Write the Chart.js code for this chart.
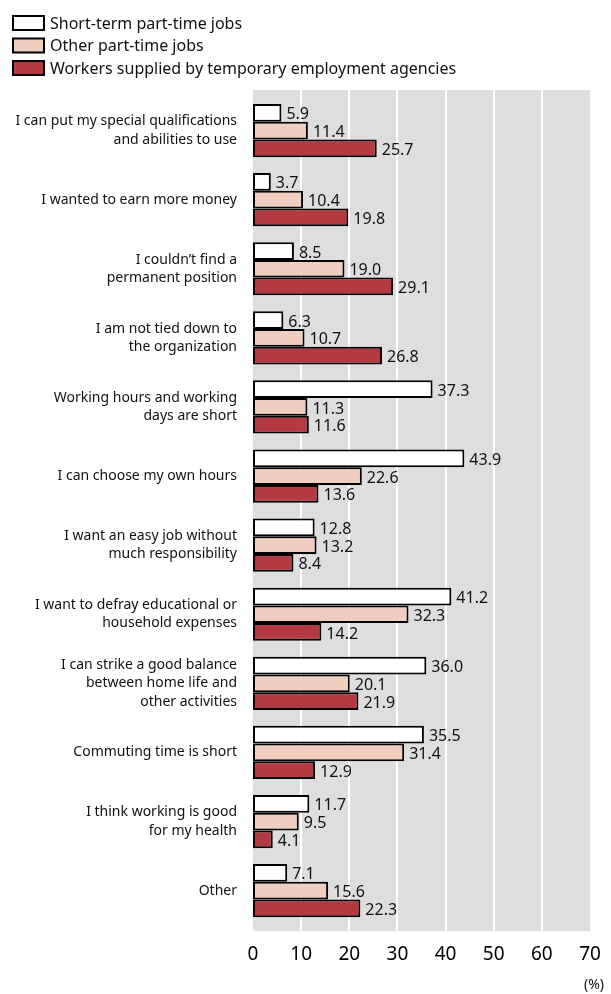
<!DOCTYPE html>
<html>
<head>
<meta charset="utf-8">
<script src="https://cdn.jsdelivr.net/npm/chart.js@4"></script>
<style>
  html, body { margin: 0; padding: 0; background: #fff; }
  #wrap { width: 611px; height: 994px; }
</style>
</head>
<body>
<div id="wrap"><canvas id="chart"></canvas></div>
<script>
const categories = [
  ['I can put my special qualifications', 'and abilities to use'],
  'I wanted to earn more money',
  ['I couldn\u2019t find a', 'permanent position'],
  ['I am not tied down to', 'the organization'],
  ['Working hours and working', 'days are short'],
  'I can choose my own hours',
  ['I want an easy job without', 'much responsibility'],
  ['I want to defray educational or', 'household expenses'],
  ['I can strike a good balance', 'between home life and', 'other activities'],
  'Commuting time is short',
  ['I think working is good', 'for my health'],
  'Other',
]
const shortTerm = [5.9, 3.7, 8.5, 6.3, 37.3, 43.9, 12.8, 41.2, 36.0, 35.5, 11.7, 7.1]
const otherPartTime = [11.4, 10.4, 19.0, 10.7, 11.3, 22.6, 13.2, 32.3, 20.1, 31.4, 9.5, 15.6]
const agencyWorkers = [25.7, 19.8, 29.1, 26.8, 11.6, 13.6, 8.4, 14.2, 21.9, 12.9, 4.1, 22.3]
const xTicks = [0, 10, 20, 30, 40, 50, 60, 70]

const FONT = '"Noto Sans", sans-serif'
const BLEED = 6 // grey panel runs a little past the first and last category

// grey plot panel with white vertical grid lines
const plotBackground = {
  id: 'plotBackground',
  beforeDatasetsDraw(chart) {
    const { ctx, chartArea: a } = chart
    const x = chart.scales.x
    ctx.save()
    ctx.fillStyle = '#dedede'
    ctx.fillRect(a.left, a.top - BLEED, a.right - a.left, a.bottom - a.top + 2 * BLEED)
    ctx.strokeStyle = '#ffffff'
    ctx.lineWidth = 2
    xTicks.slice(1, -1).forEach(v => {
      const px = Math.round(x.getPixelForValue(v))
      ctx.beginPath()
      ctx.moveTo(px, a.top - BLEED)
      ctx.lineTo(px, a.bottom + BLEED)
      ctx.stroke()
    })
    ctx.restore()
  },
}

// stacked legend in the top left corner
const columnLegend = {
  id: 'columnLegend',
  afterDraw(chart) {
    const { ctx } = chart
    ctx.save()
    ctx.font = '16px ' + FONT
    ctx.textBaseline = 'middle'
    chart.data.datasets.forEach((ds, i) => {
      const y = 23 + i * 22.5
      ctx.fillStyle = ds.backgroundColor
      ctx.fillRect(13, y - 7, 31, 14)
      ctx.lineWidth = 2
      ctx.strokeStyle = '#000'
      ctx.strokeRect(13, y - 7, 31, 14)
      ctx.fillStyle = '#111'
      ctx.fillText(ds.label, 50, y + 1)
    })
    ctx.restore()
  },
}

// value next to each bar, plus the unit under the axis
const valueLabels = {
  id: 'valueLabels',
  afterDatasetsDraw(chart) {
    const { ctx } = chart
    ctx.save()
    ctx.font = '16px ' + FONT
    ctx.fillStyle = '#111'
    ctx.textBaseline = 'middle'
    chart.data.datasets.forEach((ds, i) => {
      chart.getDatasetMeta(i).data.forEach((bar, j) => {
        ctx.fillText(ds.data[j].toFixed(1), bar.x + 5, bar.y + 2)
      })
    })
    ctx.textAlign = 'right'
    ctx.font = '14px ' + FONT
    ctx.fillText('(%)', 604, 985)
    ctx.restore()
  },
}

new Chart(document.getElementById('chart'), {
  type: 'bar',
  data: {
    labels: categories,
    datasets: [
      { label: 'Short-term part-time jobs', data: shortTerm, backgroundColor: '#ffffff' },
      { label: 'Other part-time jobs', data: otherPartTime, backgroundColor: '#efcdbf' },
      { label: 'Workers supplied by temporary employment agencies', data: agencyWorkers, backgroundColor: '#b33a40' },
    ].map(ds => Object.assign(ds, {
      borderColor: '#000',
      borderWidth: 2,
      borderSkipped: false,
      categoryPercentage: 0.77,
      barPercentage: 1,
    })),
  },
  options: {
    indexAxis: 'y',
    responsive: true,
    maintainAspectRatio: false,
    animation: false,
    layout: {
      padding: { top: 96, right: 21, bottom: 18, left: 0 },
    },
    plugins: {
      legend: { display: false },
      tooltip: { enabled: false },
    },
    scales: {
      x: {
        min: 0,
        max: 70,
        afterBuildTicks(scale) {
          scale.ticks = xTicks.map(value => ({ value }))
        },
        afterFit(scale) {
          scale.paddingLeft = 0
          scale.paddingRight = 0
        },
        grid: { display: false },
        border: { display: false },
        ticks: {
          color: '#000',
          padding: 10,
          font: { family: FONT, size: 19 },
        },
      },
      y: {
        afterFit(scale) {
          scale.width = 253
        },
        grid: { display: false },
        border: { display: false },
        ticks: {
          color: '#111',
          padding: 8,
          autoSkip: false,
          font: { family: FONT, size: 14, lineHeight: 1.3 },
        },
      },
    },
  },
  plugins: [plotBackground, columnLegend, valueLabels],
})
</script>
</body>
</html>
